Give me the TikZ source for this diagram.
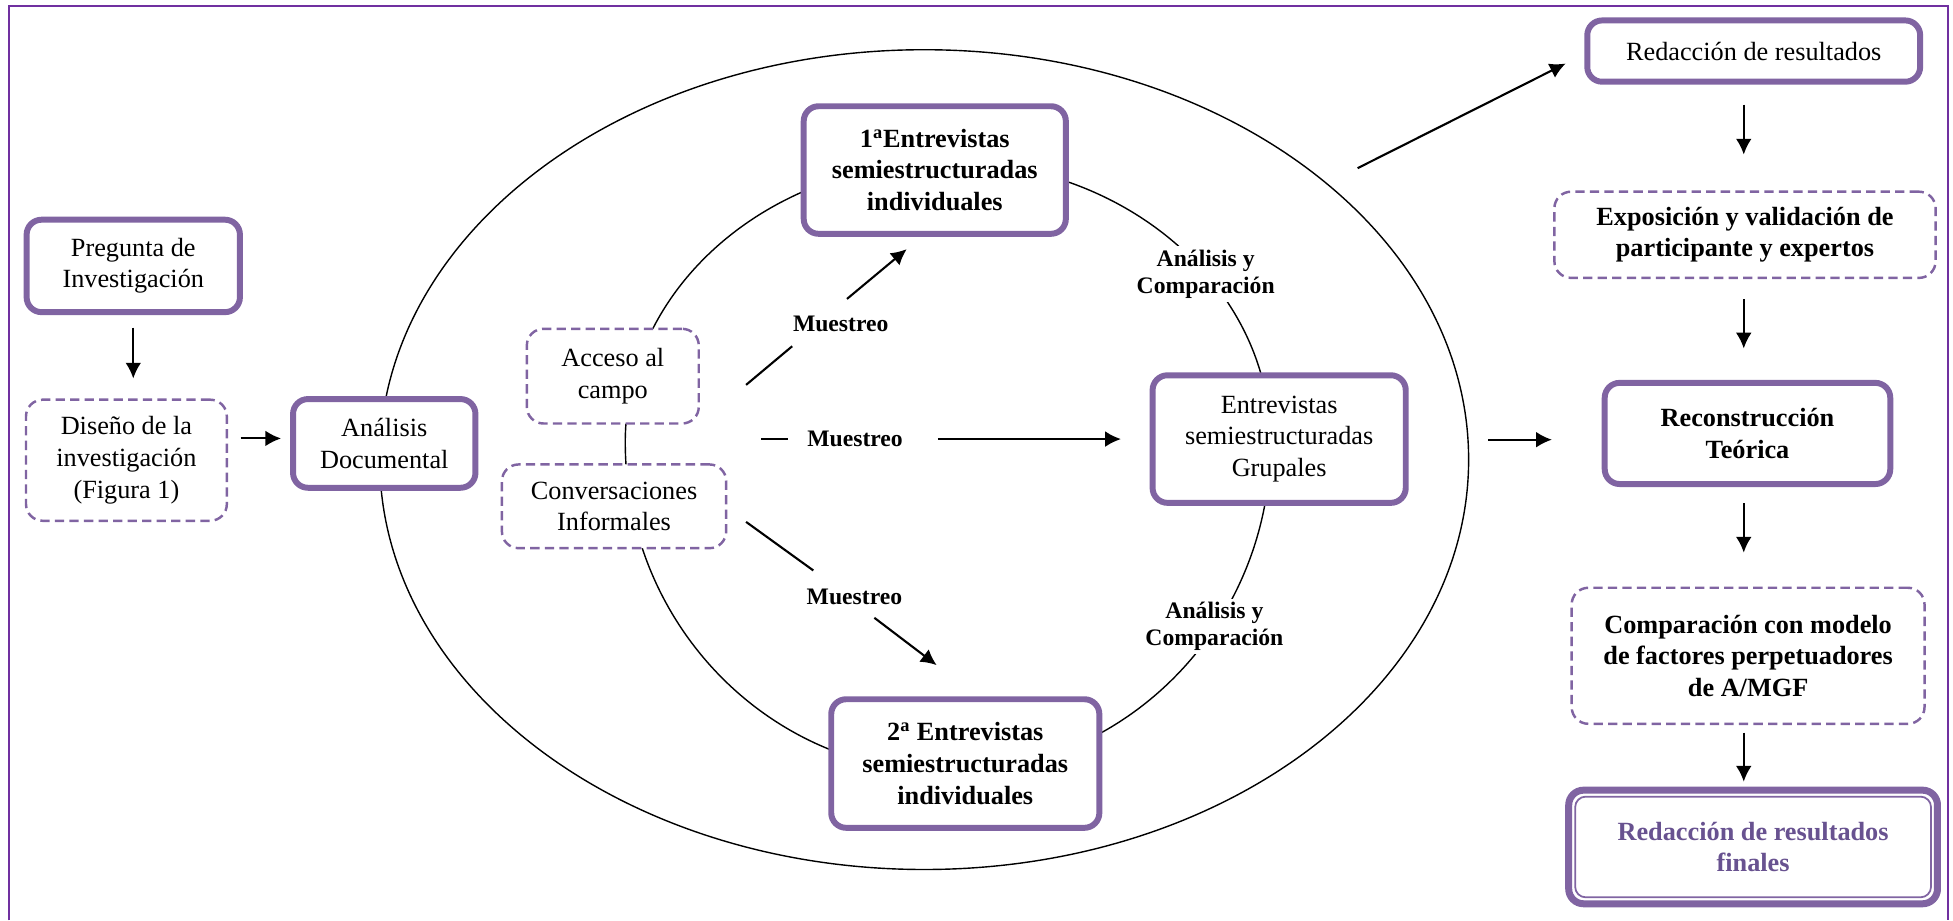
\documentclass[tikz,border=0pt]{standalone}
\usepackage{fontspec}
\setmainfont{Liberation Serif}
\usetikzlibrary{arrows.meta}
\definecolor{boxpurple}{RGB}{128,100,162}
\definecolor{framepurple}{RGB}{112,48,160}
\definecolor{finalpurple}{RGB}{104,82,144}

\begin{document}
\begin{tikzpicture}[
	x=0.025cm, y=-0.025cm,
	every node/.style={font=\fontsize{15}{18}\selectfont, align=center, inner sep=1pt},
	solidbox/.style={rectangle, draw=boxpurple, line width=3.4pt, rounded corners=8.5pt, fill=white},
	dashbox/.style={rectangle, draw=boxpurple, line width=1.4pt, dash pattern=on 5.3pt off 3pt, rounded corners=9.5pt, fill=white},
	boldtext/.style={font=\fontsize{15}{18}\selectfont\bfseries},
	lbl/.style={font=\fontsize{13.5}{15.5}\selectfont\bfseries, fill=white, inner sep=2pt},
	flow/.style={-{Latex[length=9pt,width=9pt]}, line width=1.2pt},
	link/.style={line width=1.2pt},
	ring/.style={line width=0.8pt}
	]
	\useasboundingbox (0,0) rectangle (1568,739);
	\draw[framepurple, line width=1.1pt] (7,739) -- (7,4.5) -- (1564,4.5) -- (1564,739);

	% outer and inner cycles
	\draw[ring] (742,369) ellipse [x radius=10.925cm, y radius=8.225cm];
	\draw[ring] (502,355) arc[start angle=180, end angle=0, x radius=6.475cm, y radius=5.625cm]
		arc[start angle=0, end angle=-180, x radius=6.475cm, y radius=6.625cm];

	% left column
	\node[solidbox, minimum width=4.28cm, minimum height=1.855cm] (preg) at (107,213.5) {Pregunta de\\Investigación};
	\node[dashbox, minimum width=4.03cm, minimum height=2.43cm] (dis) at (101.5,369.5) {Diseño de la\\investigación\\(Figura 1)};
	\node[solidbox, minimum width=3.66cm, minimum height=1.78cm] (anadoc) at (308.5,356) {Análisis\\Documental};

	% inside the cycle
	\node[dashbox, minimum width=3.45cm, minimum height=1.9cm] (acc) at (492,302) {Acceso al\\campo};
	\node[dashbox, minimum width=4.5cm, minimum height=1.68cm] (conv) at (493,406.5) {Conversaciones\\Informales};
	\node[solidbox, boldtext, minimum width=5.26cm, minimum height=2.56cm] (ent1) at (750.5,136.5) {1\textsuperscript{a}Entrevistas\\semiestructuradas\\individuales};
	\node[solidbox, minimum width=5.08cm, minimum height=2.56cm] (grup) at (1027,352.5) {Entrevistas\\semiestructuradas\\Grupales};
	\node[solidbox, boldtext, minimum width=5.38cm, minimum height=2.58cm] (ent2) at (775,613) {2\textsuperscript{a} Entrevistas\\semiestructuradas\\individuales};

	% right column
	\node[solidbox, minimum width=6.68cm, minimum height=1.23cm] (red) at (1408,41) {Redacción de resultados};
	\node[dashbox, boldtext, minimum width=7.65cm, minimum height=1.73cm] (expo) at (1401,188.5) {Exposición y validación de\\participante y expertos};
	\node[solidbox, boldtext, minimum width=5.73cm, minimum height=2.03cm] (recon) at (1403,348) {Reconstrucción\\Teórica};
	\node[dashbox, boldtext, minimum width=7.08cm, minimum height=2.73cm] (comp) at (1403.5,526.5) {Comparación con modelo\\de factores perpetuadores\\de A/MGF};
	\node[solidbox, boldtext, line width=4pt, text=finalpurple, minimum width=7.4cm, minimum height=2.28cm] (fin) at (1407.5,680) {Redacción de resultados\\finales};
	\draw[boxpurple, line width=1pt, rounded corners=6pt] ([shift={(8,8)}]fin.north west) rectangle ([shift={(-8,-8)}]fin.south east);

	\coordinate (colx) at (1400,0);
	\coordinate (ya) at (0,352);
	\coordinate (m1s) at (599,309);
	\coordinate (m1a) at (636,278);
	\coordinate (m1b) at (680,240);
	\coordinate (m1e) at (728,200);
	\coordinate (m2s) at (611,352.5);
	\coordinate (m2a) at (633,352.5);
	\coordinate (m2b) at (753,352.5);
	\coordinate (m2e) at (900,352.5);
	\coordinate (m3s) at (599,419);
	\coordinate (m3a) at (653,458);
	\coordinate (m3b) at (702,496);
	\coordinate (m3e) at (752,534);
	\coordinate (ors) at (1090,135);
	\coordinate (ore) at (1257,51);
	\coordinate (oes) at (1195,353);

	\draw[flow, shorten <=0.25cm, shorten >=0.4cm] (preg.south) -- (preg.south |- dis.north);
	\draw[flow, shorten <=0.25cm, shorten >=0.18cm] (dis.east |- ya) -- (anadoc.west |- ya);

	\draw[link] (m1s) -- (m1a);
	\draw[flow] (m1b) -- (m1e);
	\draw[link] (m2s) -- (m2a);
	\draw[flow] (m2b) -- (m2e);
	\draw[link] (m3s) -- (m3a);
	\draw[flow] (m3b) -- (m3e);

	\draw[flow] (ors) -- (ore);
	\draw[flow, shorten >=1.0cm] (oes) -- (recon.west |- oes);
	\draw[flow, shorten <=0.4cm, shorten >=0.72cm] (red.south -| colx) -- (expo.north -| colx);
	\draw[flow, shorten <=0.4cm, shorten >=0.63cm] (expo.south -| colx) -- (recon.north -| colx);
	\draw[flow, shorten <=0.33cm, shorten >=0.68cm] (recon.south -| colx) -- (comp.north -| colx);
	\draw[flow, shorten <=0.15cm, shorten >=0.1cm] (comp.south -| colx) -- (fin.north -| colx);

	% labels
	\node[lbl] (mu1) at (675,260) {Muestreo};
	\node[lbl] (mu2) at (686.5,352.5) {Muestreo};
	\node[lbl] (mu3) at (686,479) {Muestreo};
	\node[lbl] (ac1) at (968,220) {Análisis y\\Comparación};
	\node[lbl] (ac2) at (975,503) {Análisis y\\Comparación};
\end{tikzpicture}
\end{document}
